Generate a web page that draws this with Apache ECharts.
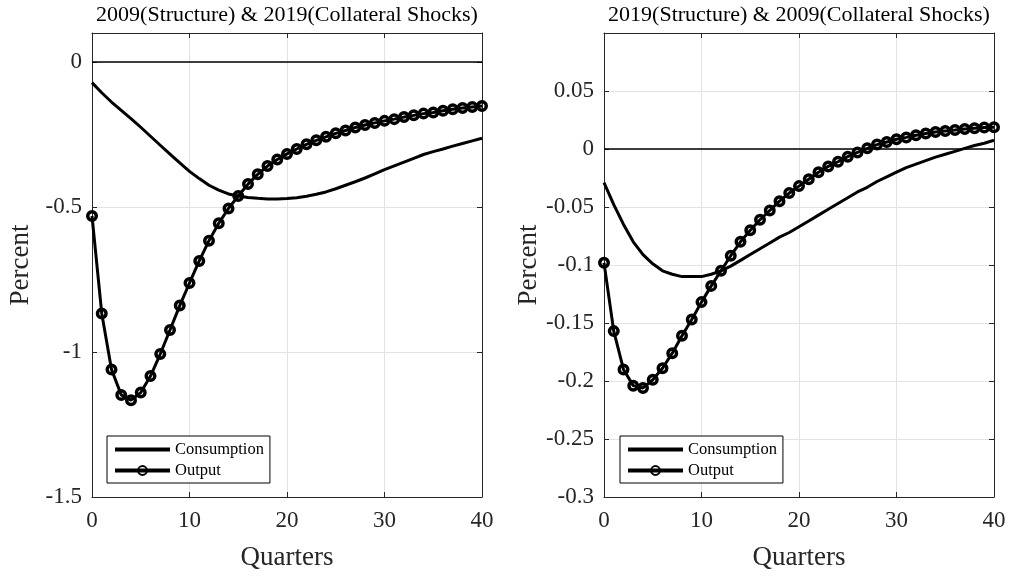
<!DOCTYPE html>
<html>
<head>
<meta charset="utf-8">
<script src="https://cdn.jsdelivr.net/npm/echarts@6/dist/echarts.min.js"></script>
<style>
html,body{margin:0;padding:0;background:#fff;}
#chart{width:1011px;height:576px;}
</style>
</head>
<body>
<div id="chart"></div>
<script>
// ---- data ----
const quarters = [0,1,2,3,4,5,6,7,8,9,10,11,12,13,14,15,16,17,18,19,20,21,22,23,24,25,26,27,28,29,30,31,32,33,34,35,36,37,38,39,40];

const titles = ['2009(Structure) & 2019(Collateral Shocks)', '2019(Structure) & 2009(Collateral Shocks)'];
const seriesNames = ['Consumption', 'Output'];

const leftConsumption = [-0.071,-0.106,-0.138,-0.167,-0.195,-0.225,-0.256,-0.287,-0.318,-0.348,-0.377,-0.402,-0.425,-0.442,-0.455,-0.462,-0.467,-0.470,-0.472,-0.472,-0.471,-0.468,-0.463,-0.456,-0.448,-0.437,-0.425,-0.413,-0.400,-0.386,-0.371,-0.358,-0.345,-0.332,-0.319,-0.309,-0.300,-0.290,-0.281,-0.272,-0.263];
const leftOutput = [-0.531,-0.867,-1.060,-1.148,-1.166,-1.140,-1.083,-1.007,-0.924,-0.840,-0.762,-0.686,-0.616,-0.556,-0.505,-0.462,-0.421,-0.387,-0.359,-0.336,-0.317,-0.300,-0.284,-0.270,-0.258,-0.246,-0.236,-0.226,-0.217,-0.210,-0.203,-0.197,-0.190,-0.184,-0.178,-0.174,-0.168,-0.163,-0.159,-0.155,-0.152];

const rightConsumption = [-0.029,-0.048,-0.065,-0.080,-0.091,-0.099,-0.105,-0.108,-0.110,-0.110,-0.110,-0.108,-0.105,-0.101,-0.096,-0.091,-0.086,-0.081,-0.076,-0.072,-0.067,-0.062,-0.057,-0.052,-0.047,-0.042,-0.037,-0.033,-0.028,-0.024,-0.020,-0.016,-0.013,-0.010,-0.007,-0.0045,-0.002,0.0005,0.003,0.005,0.0075];
const rightOutput = [-0.098,-0.157,-0.190,-0.204,-0.206,-0.199,-0.189,-0.176,-0.161,-0.147,-0.132,-0.118,-0.105,-0.092,-0.080,-0.070,-0.061,-0.053,-0.045,-0.038,-0.032,-0.026,-0.020,-0.015,-0.011,-0.0066,-0.003,0.0006,0.0038,0.006,0.0084,0.010,0.0118,0.0133,0.0147,0.0156,0.0164,0.0173,0.0179,0.0185,0.0188];

const xTicks = {min:0, max:40, interval:10};
const leftY = {min:-1.5, max:0.1, interval:0.5};
const rightY = {min:-0.3, max:0.1, interval:0.05};

// ---- styling ----
const FONT = '"Liberation Serif","Times New Roman",serif';
const AXC = '#262626';
const GRIDC = '#e3e3e3';

function pairs(xs, ys){ return xs.map((x,i)=>[x, ys[i]]); }

function axesFor(gi, yr){
  const xa = [
    {gridIndex:gi, type:'value', position:'bottom', min:xTicks.min, max:xTicks.max, interval:xTicks.interval,
     axisLine:{show:true, onZero:false, lineStyle:{color:AXC, width:1}},
     axisTick:{show:true, inside:true, length:5, lineStyle:{color:AXC}},
     axisLabel:{color:AXC, fontFamily:FONT, fontSize:23, margin:12},
     splitLine:{show:true, lineStyle:{color:GRIDC, width:1}},
     name:'Quarters', nameLocation:'middle', nameGap:47,
     nameTextStyle:{color:AXC, fontFamily:FONT, fontSize:27}},
    {gridIndex:gi, type:'value', position:'top', min:xTicks.min, max:xTicks.max, interval:xTicks.interval,
     axisLine:{show:true, onZero:false, lineStyle:{color:AXC, width:1}},
     axisTick:{show:true, inside:true, length:5, lineStyle:{color:AXC}},
     axisLabel:{show:false}, splitLine:{show:false}}
  ];
  const ya = [
    {gridIndex:gi, type:'value', position:'left', min:yr.min, max:yr.max, interval:yr.interval,
     axisLine:{show:true, onZero:false, lineStyle:{color:AXC, width:1}},
     axisTick:{show:true, inside:true, length:5, lineStyle:{color:AXC}},
     axisLabel:{color:AXC, fontFamily:FONT, fontSize:23, margin:10, showMaxLabel:false},
     splitLine:{show:true, lineStyle:{color:GRIDC, width:1}},
     name:'Percent', nameLocation:'middle', nameGap:58,
     nameTextStyle:{color:AXC, fontFamily:FONT, fontSize:27}},
    {gridIndex:gi, type:'value', position:'right', min:yr.min, max:yr.max, interval:yr.interval,
     axisLine:{show:true, onZero:false, lineStyle:{color:AXC, width:1}},
     axisTick:{show:true, inside:true, length:5, lineStyle:{color:AXC}},
     axisLabel:{show:false}, splitLine:{show:false}}
  ];
  return {xa, ya};
}

const a0 = axesFor(0, leftY);
const a1 = axesFor(1, rightY);

function makeSeries(xi, yi, cons, out){
  return [
    {name:seriesNames[0], type:'line', xAxisIndex:xi, yAxisIndex:yi, data:pairs(quarters, cons),
     showSymbol:false, symbol:'circle', symbolSize:1, smooth:false,
     lineStyle:{color:'#000', width:3, join:'round'}, itemStyle:{color:'rgba(0,0,0,0)', borderWidth:0}, z:3,
     markLine:{silent:true, symbol:'none', animation:false, label:{show:false},
       lineStyle:{color:'#000', width:1.5, type:'solid'}, data:[{yAxis:0}]}},
    {name:seriesNames[1], type:'line', xAxisIndex:xi, yAxisIndex:yi, data:pairs(quarters, out),
     showSymbol:true, showAllSymbol:true, symbol:'circle', symbolSize:8.5,
     lineStyle:{color:'#000', width:3},
     itemStyle:{color:'rgba(0,0,0,0)', borderColor:'#000', borderWidth:3.5}, z:4}
  ];
}

function legendFor(left){
  return {orient:'vertical', left:left, top:436, itemWidth:55, itemHeight:11, itemGap:4,
    padding:[5,6,4,6], borderColor:'#000', borderWidth:1, backgroundColor:'#fff', borderRadius:0,
    lineStyle:{width:4, color:'#000'},
    textStyle:{fontFamily:FONT, fontSize:16.5, color:'#000'}, data:seriesNames, selectedMode:false};
}

const chart = echarts.init(document.getElementById('chart'), null, {renderer:'canvas'});
chart.setOption({
  animation:false,
  backgroundColor:'#fff',
  title:[
    {text:titles[0], left:287, top:4, textAlign:'center', padding:0,
     textStyle:{fontFamily:FONT, fontSize:22, fontWeight:'normal', color:'#000'}},
    {text:titles[1], left:799, top:4, textAlign:'center', padding:0,
     textStyle:{fontFamily:FONT, fontSize:22, fontWeight:'normal', color:'#000'}}
  ],
  grid:[
    {left:92, top:33, width:390, height:464, containLabel:false},
    {left:604, top:33, width:390, height:464, containLabel:false}
  ],
  legend:[legendFor(107), legendFor(620)],
  xAxis:[...a0.xa, ...a1.xa],
  yAxis:[...a0.ya, ...a1.ya],
  series:[...makeSeries(0,0,leftConsumption,leftOutput), ...makeSeries(2,2,rightConsumption,rightOutput)]
});
</script>
</body>
</html>
